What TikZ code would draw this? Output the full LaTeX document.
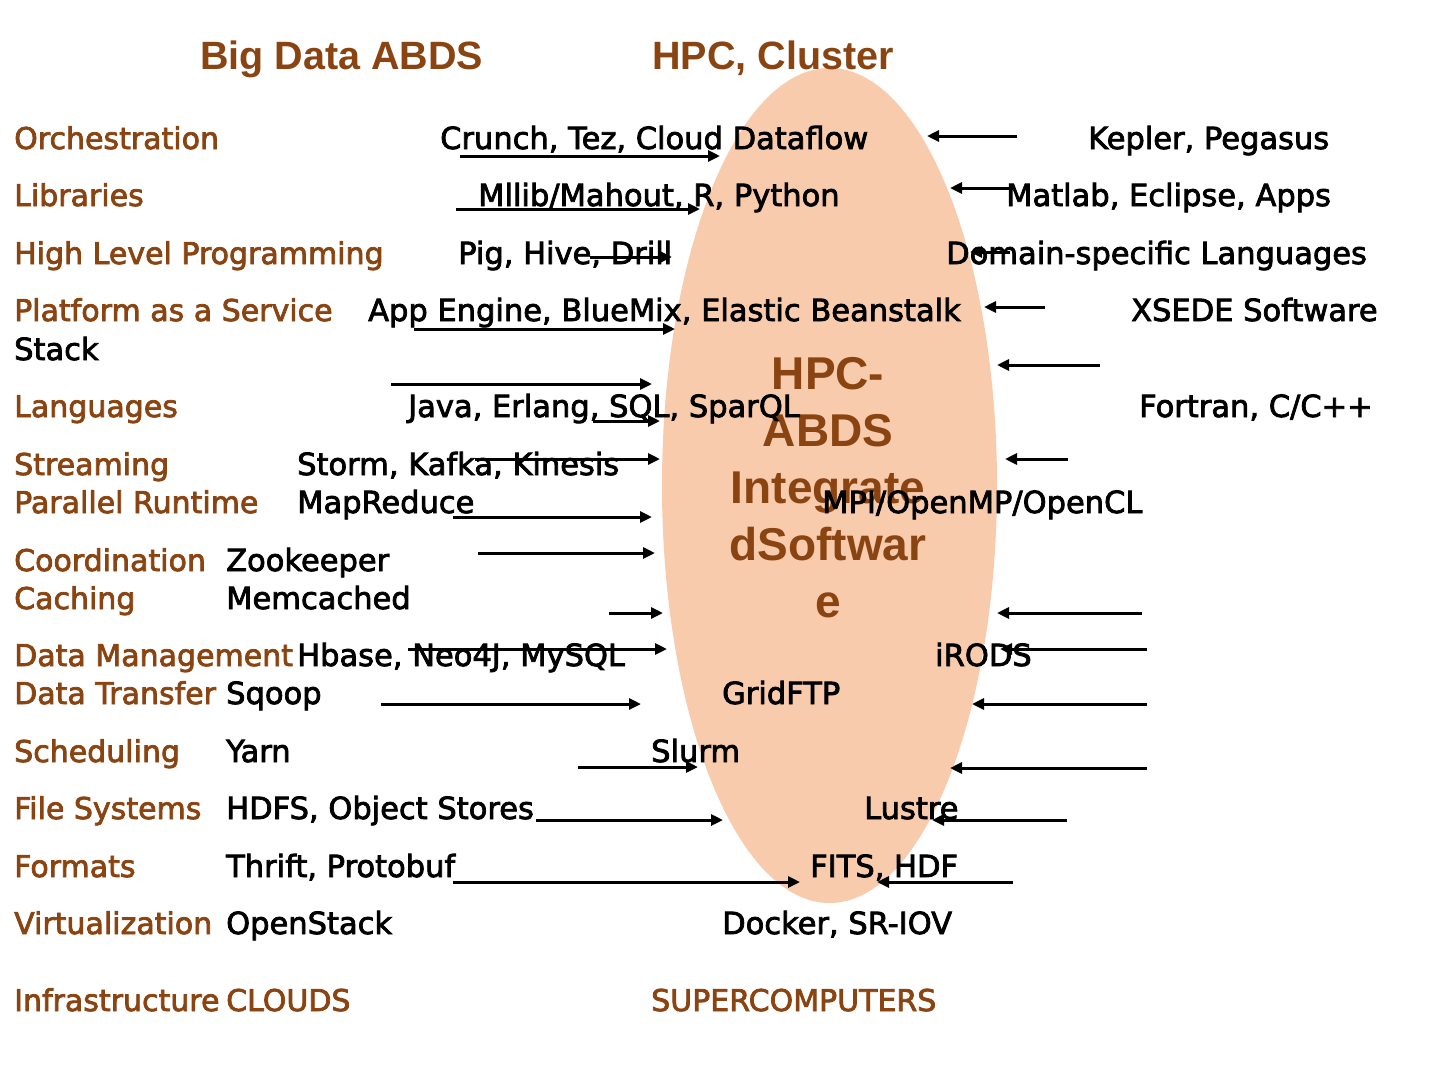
\documentclass[tikz,border=0pt]{standalone}
\usepackage{fontspec}
\usepackage{tikz}
\usetikzlibrary{arrows.meta,shapes.geometric}
\setmainfont{DejaVu Sans}[FakeBold=2.5]
\newfontfamily\headfamily{Liberation Sans}
\newcommand{\bodyfont}{\fontsize{30.5}{32}\selectfont}
\newcommand{\lblfont}{\fontsize{30}{32}\selectfont}
\newcommand{\headfont}{\headfamily\bfseries\fontsize{39.5}{42}\selectfont}
\newcommand{\blobfont}{\headfamily\bfseries\fontsize{46}{57}\selectfont}
\definecolor{rust}{RGB}{138,68,18}
\definecolor{peach}{RGB}{248,203,173}
\tikzset{
  >={Triangle[length=12pt,width=11pt]},
  txt/.style={anchor=base west, inner sep=0pt, font=\bodyfont},
  lbl/.style={txt, font=\lblfont, text=rust},
}

\begin{document}
\begin{tikzpicture}[
  x=1pt, y=-1pt,
  arr/.style={->, line width=3pt},
  head/.style={anchor=base west, inner sep=0pt, font=\headfont, text=rust}
]
\useasboundingbox[fill=white] (0,0) rectangle (1440,1080);

% the integrated software blob
\node[ellipse, fill=peach, minimum width=335, minimum height=835, inner sep=0pt] (blob) at (829.5,485.5) {};
\node[align=center, inner sep=0pt, font=\blobfont, text=rust] (blobtxt) at (828,487.5)
  {HPC-\\ABDS\\Integrate\\dSoftwar\\e};

\node[head] (abds) at (200,69) {Big Data ABDS};
\node[head] (hpc) at (652,69) {HPC, Cluster};

% layer names
\node[lbl] (orch) at (14,149) {Orchestration};
\node[lbl] (libs) at (14,206) {Libraries};
\node[lbl] (hlp) at (14,264) {High Level Programming};
\node[lbl] (paas) at (14,321) {Platform as a Service};
\node[lbl] (lang) at (14,417) {Languages};
\node[lbl] (strm) at (14,475) {Streaming};
\node[lbl] (prun) at (14,513) {Parallel Runtime};
\node[lbl] (coord) at (14,571) {Coordination};
\node[lbl] (cache) at (14,609) {Caching};
\node[lbl] (dman) at (14,666) {Data Management};
\node[lbl] (dtrans) at (14,704) {Data Transfer};
\node[lbl] (sched) at (14,762) {Scheduling};
\node[lbl] (fsys) at (14,819) {File Systems};
\node[lbl] (fmt) at (14,877) {Formats};
\node[lbl] (virt) at (14,934) {Virtualization};
\node[lbl] (infra) at (14,1011) {Infrastructure};

% ABDS side
\node[txt] (crunch) at (440,149) {Crunch, Tez, Cloud Dataflow};
\node[txt] (mllib) at (478,206) {Mllib/Mahout, R, Python};
\node[txt] (pig) at (458,264) {Pig, Hive, Drill};
\node[txt] (appeng) at (368,321) {App Engine, BlueMix, Elastic Beanstalk};
\node[txt] (java) at (408,417) {Java, Erlang, SQL, SparQL};
\node[txt] (storm) at (297,475) {Storm, Kafka, Kinesis};
\node[txt] (mapred) at (297,513) {MapReduce};
\node[txt] (zoo) at (226,571) {Zookeeper};
\node[txt] (memc) at (226,609) {Memcached};
\node[txt] (hbase) at (297,666) {Hbase, Neo4J, MySQL};
\node[txt] (sqoop) at (226,704) {Sqoop};
\node[txt] (yarn) at (226,762) {Yarn};
\node[txt] (hdfs) at (226,819) {HDFS, Object Stores};
\node[txt] (thrift) at (226,877) {Thrift, Protobuf};
\node[txt] (ostack) at (226,934) {OpenStack};
\node[lbl] (clouds) at (226,1011) {CLOUDS};

% HPC side
\node[txt] (kepler) at (1088,149) {Kepler, Pegasus};
\node[txt] (matlab) at (1006,206) {Matlab, Eclipse, Apps};
\node[txt] (domain) at (946,264) {Domain-specific Languages};
\node[txt] (xsede) at (1131,321) {XSEDE Software};
\node[txt] (stack) at (14,360) {Stack};
\node[txt] (fortran) at (1139,417) {Fortran, C/C++};
\node[txt] (mpi) at (822,513) {MPI/OpenMP/OpenCL};
\node[txt] (irods) at (935,666) {iRODS};
\node[txt] (gridftp) at (722,704) {GridFTP};
\node[txt] (slurm) at (651,762) {Slurm};
\node[txt] (lustre) at (864,819) {Lustre};
\node[txt] (fits) at (810,877) {FITS, HDF};
\node[txt] (docker) at (722,934) {Docker, SR-IOV};
\node[lbl] (supers) at (651,1011) {SUPERCOMPUTERS};

% arrow ends, ABDS side
\coordinate (orchA) at (460,156);  \coordinate (orchB) at (720,156);
\coordinate (libsA) at (456,209);  \coordinate (libsB) at (700,209);
\coordinate (hlpA) at (590,257);   \coordinate (hlpB) at (672,257);
\coordinate (paasA) at (414,329);  \coordinate (paasB) at (675,329);
\coordinate (langA) at (391,384);  \coordinate (langB) at (652,384);
\coordinate (javaA) at (593,421);  \coordinate (javaB) at (660,421);
\coordinate (strmA) at (475,459);  \coordinate (strmB) at (660,459);
\coordinate (prunA) at (453,517);  \coordinate (prunB) at (652,517);
\coordinate (coordA) at (478,553); \coordinate (coordB) at (655,553);
\coordinate (cacheA) at (609,613); \coordinate (cacheB) at (663,613);
\coordinate (dmanA) at (408,649);  \coordinate (dmanB) at (667,649);
\coordinate (dtrA) at (381,704);   \coordinate (dtrB) at (641,704);
\coordinate (schedA) at (578,767); \coordinate (schedB) at (698,767);
\coordinate (fsysA) at (536,820);  \coordinate (fsysB) at (723,820);
\coordinate (fmtA) at (453,882);   \coordinate (fmtB) at (800,882);

% arrow ends, HPC side
\coordinate (keplerA) at (1017,136); \coordinate (keplerB) at (927,136);
\coordinate (matlabA) at (1010,188); \coordinate (matlabB) at (950,188);
\coordinate (domainA) at (1010,252); \coordinate (domainB) at (970,252);
\coordinate (xsedeA) at (1045,307);  \coordinate (xsedeB) at (984,307);
\coordinate (stackA) at (1100,365);  \coordinate (stackB) at (997,365);
\coordinate (fortA) at (1068,459);   \coordinate (fortB) at (1005,459);
\coordinate (mpiA) at (1142,613);    \coordinate (mpiB) at (997,613);
\coordinate (irodsA) at (1147,649);  \coordinate (irodsB) at (1000,649);
\coordinate (gridA) at (1147,704);   \coordinate (gridB) at (972,704);
\coordinate (slurmA) at (1147,768);  \coordinate (slurmB) at (950,768);
\coordinate (lustreA) at (1067,820); \coordinate (lustreB) at (932,820);
\coordinate (fitsA) at (1013,882);   \coordinate (fitsB) at (877,882);

\path[arr]
(orchA) edge (orchB)
(libsA) edge (libsB)
(hlpA) edge (hlpB)
(paasA) edge (paasB)
(langA) edge (langB)
(javaA) edge (javaB)
(strmA) edge (strmB)
(prunA) edge (prunB)
(coordA) edge (coordB)
(cacheA) edge (cacheB)
(dmanA) edge (dmanB)
(dtrA) edge (dtrB)
(schedA) edge (schedB)
(fsysA) edge (fsysB)
(fmtA) edge (fmtB);

\path[arr]
(keplerA) edge (keplerB)
(matlabA) edge (matlabB)
(domainA) edge (domainB)
(xsedeA) edge (xsedeB)
(stackA) edge (stackB)
(fortA) edge (fortB)
(mpiA) edge (mpiB)
(irodsA) edge (irodsB)
(gridA) edge (gridB)
(slurmA) edge (slurmB)
(lustreA) edge (lustreB)
(fitsA) edge (fitsB);

\end{tikzpicture}
\end{document}
